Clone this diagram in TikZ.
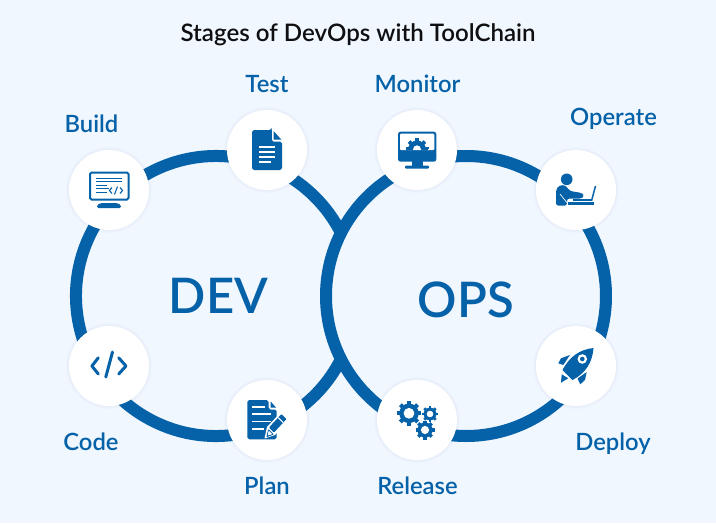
\documentclass[tikz,border=0pt]{standalone}
\usepackage{fontspec}
\setmainfont{Lato}[BoldFont={Lato Semibold}]
\definecolor{bgc}{HTML}{F0F7FF}
\definecolor{dblue}{HTML}{0561A8}
\definecolor{ttl}{HTML}{0F0F12}
\newcommand{\mygear}[6]{% x,y,r,hole,teeth,hole colour
  \fill[dblue] (#1,#2) circle (#3*0.8);
  \foreach \a in {1,...,#5}{
    \draw[dblue,line width=#3*0.34pt] ({#1+#3*0.6*cos(\a*360/#5)},{#2+#3*0.6*sin(\a*360/#5)}) -- ({#1+#3*cos(\a*360/#5)},{#2+#3*sin(\a*360/#5)});
  }
  \fill[#6] (#1,#2) circle (#4);
}
\tikzset{
  ring/.style={draw=dblue,line width=12pt},
  stage/.style={circle,fill=white,minimum size=80pt,inner sep=0pt},
  lab/.style={text=dblue,font=\fontsize{23.8}{26}\selectfont\bfseries,inner sep=0pt,anchor=base},
  big/.style={text=dblue,font=\fontsize{49}{54}\selectfont\bfseries,inner sep=0pt,anchor=base},
  wline/.style={draw=white,line width=1.8pt}
}
\begin{document}
\begin{tikzpicture}[x=1pt,y=-1pt]
\useasboundingbox (0,0) rectangle (716,523);
\fill[bgc] (0,0) rectangle (716,523);
\coordinate (devc) at (216,296);
\coordinate (opsc) at (466,296);
% rings
\draw[ring] ([shift={(26.8:140)}]devc) arc[start angle=26.8,end angle=333.2,radius=140];
\draw[ring] (opsc) circle[radius=140];
% shadows
\foreach \p in {(109,190),(267,150),(417,150),(576,190),(109,366),(267,420),(417,420),(576,366)}{
  \foreach \r in {43,42,41}{
    \fill[black!60!blue!60,opacity=0.015] \p circle[radius=\r];
  }
}
% stages
\node[stage] (build) at (109,190) {};
\node[stage] (test) at (267,150) {};
\node[stage] (monitor) at (417,150) {};
\node[stage] (operate) at (576,190) {};
\node[stage] (code) at (109,366) {};
\node[stage] (plan) at (267,420) {};
\node[stage] (release) at (417,420) {};
\node[stage] (deploy) at (576,366) {};
% text
\node[text=ttl,font=\fontsize{24.1}{27}\selectfont\bfseries,inner sep=0pt,anchor=base] (title) at (358,41.7) {Stages of DevOps with ToolChain};
\node[lab] (ltest) at (267,92) {Test};
\node[lab] (lmonitor) at (417.5,92) {Monitor};
\node[lab] (lbuild) at (91.5,132) {Build};
\node[lab] (loperate) at (613.5,125) {Operate};
\node[lab] (lcode) at (91,450) {Code};
\node[lab] (lplan) at (267,494) {Plan};
\node[lab] (lrelease) at (417.5,494) {Release};
\node[lab] (ldeploy) at (613,450) {Deploy};
\node[big] (dev) at (218.5,313.5) {DEV};
\node[big] (ops) at (466,317.5) {OPS};
% Build icon
\draw[dblue,line width=2pt,rounded corners=1.5pt] (90,172.5) rectangle (128.5,199.5);
\fill[dblue,rounded corners=1.5pt] (97,205) -- (101,203) -- (117,203) -- (121,205) -- (121,208) -- (97,208) -- cycle;
\draw[dblue,line width=1.2pt] (96,178.3) -- (122,178.3) (96,181.5) -- (122,181.5);
\draw[dblue,line width=1.2pt] (96,185.5) -- (107,185.5) (96,188.8) -- (109,188.8) (96,192.8) -- (107,192.8);
\draw[dblue,line width=1.1pt] (112,187.5) -- (109.5,190.5) -- (112,193.5) (120,187.5) -- (122.5,190.5) -- (120,193.5) (117.5,186.5) -- (114.5,194.5);
% Test icon
\fill[dblue,rounded corners=1.8pt] (252,130) -- (271.5,130) -- (271.5,130) -- (271.5,141.5) -- (282,141.5) -- (282,170) -- (252,170) -- cycle;
\fill[dblue] (273.5,131) -- (281.5,139.7) -- (273.5,139.7) -- cycle;
\fill[dblue] (270.5,130) rectangle (271.5,142);
\draw[wline] (259,147) -- (275,147) (259,152) -- (275,152) (259,157) -- (275,157) (259,161.8) -- (270.5,161.8);
% Monitor icon
\fill[dblue,rounded corners=2.5pt] (398,131.7) rectangle (436.3,161.7);
\fill[white,rounded corners=1pt] (400,133.7) rectangle (434.3,150);
\fill[dblue] (412,161) rectangle (422.5,166);
\fill[dblue,rounded corners=1pt] (405,165.5) rectangle (429,168.5);
\begin{scope}
\clip (400,130) rectangle (434,149.3);
\mygear{417}{149.5}{11.2}{4}{8}{white}
\fill[dblue] (406,146.5) rectangle (428.5,149.3);
\fill[white] (417,149.5) circle (4);
\end{scope}
% Operate icon
\fill[dblue] (566.7,179.3) circle (5.8);
\fill[dblue,rounded corners=2.5pt] (556,205.7) -- (556,190) -- (559,185.5) -- (565,185) -- (570,191) -- (582,193) -- (584,195.5) -- (582,198.5) -- (570,198.5) -- (567,198.5) -- (567,205.7) -- cycle;
\draw[white,line width=0.7pt] (560,194) -- (568,204);
\fill[dblue] (568,201.7) rectangle (594,205);
\fill[dblue] (573,199.3) rectangle (591.5,201);
\draw[dblue,line width=1.5pt] (591.5,201) -- (595.5,186);
% Code icon
\draw[dblue,line width=3pt,line cap=round,line join=round] (98.3,357.8) -- (91.9,366) -- (98.3,374) (118.7,357.8) -- (126,366) -- (118.7,374);
\draw[dblue,line width=3pt,line cap=round] (112.5,352) -- (105.8,377);
% Plan icon
\fill[dblue,rounded corners=1.8pt] (247.3,400) -- (268.5,400) -- (268.5,409.5) -- (276.7,409.5) -- (276.7,439.3) -- (247.3,439.3) -- cycle;
\fill[dblue] (270.7,401.5) -- (276,407.5) -- (270.7,407.5) -- cycle;
\draw[wline] (252.3,407.3) -- (265,407.3) (252.3,414) -- (271,414) (252.3,421.5) -- (271,421.5) (252.3,429.3) -- (263.5,429.3);
\fill[white] (264.5,438.5) -- (267,427) -- (281,412) -- (289,420) -- (275,435) -- cycle;
\fill[dblue,rounded corners=1pt] (269,427.5) -- (281.5,414) -- (286.5,419) -- (274,432.5) -- cycle;
\draw[white,line width=1pt] (278.2,417.6) -- (283.2,422.6);
\draw[dblue,line width=1pt,line join=round] (267,436.5) -- (268.6,430) -- (273,434.2) -- cycle;
\fill[white] (267.7,435.3) -- (268.8,431) -- (272,434.2) -- cycle;
% Release icon
\mygear{409}{413.3}{12.2}{5.4}{8}{white}
\mygear{430}{414}{8}{3.3}{8}{white}
\mygear{425}{430}{9.5}{4.1}{8}{white}
% Deploy icon
\fill[dblue] (593.5,348) .. controls (580,349.5) and (570,356) .. (562.5,370) -- (572.5,380) .. controls (586,373) and (592.5,362) .. cycle;
\fill[white] (582.3,359) circle (4.8);
\fill[dblue] (582.3,359) circle (2.3);
\fill[dblue] (570,355) -- (561,358.3) -- (558.3,363.3) -- (563.3,365) -- cycle;
\fill[dblue] (586.7,372) -- (585,380) -- (580.3,384.3) -- (577.5,378.5) -- cycle;
\fill[dblue] (561.7,374.3) -- (568.3,378.3) -- (561,382.7) -- cycle;
\end{tikzpicture}
\end{document}
